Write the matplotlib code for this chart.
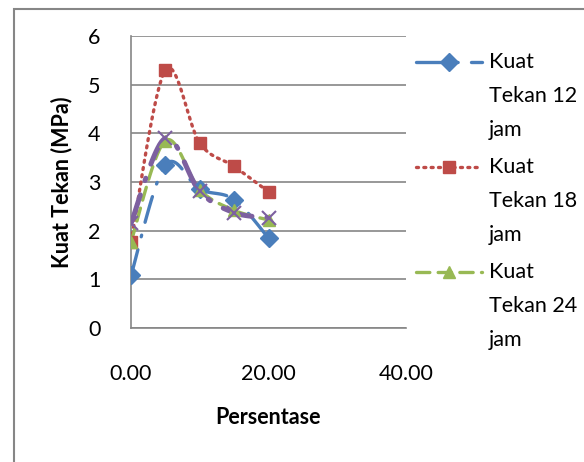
import numpy as np
import matplotlib
matplotlib.use("Agg")
import matplotlib.pyplot as plt
from matplotlib.lines import Line2D
from matplotlib.patches import Rectangle

plt.rcParams['font.family'] = ['Lato', 'DejaVu Sans']

persentase = [0, 5, 10, 15, 20]
kt12 = [1.08, 3.35, 2.85, 2.64, 1.85]
kt18 = [1.77, 5.30, 3.80, 3.32, 2.80]
kt24 = [1.77, 3.85, 2.84, 2.42, 2.22]
kt_extra = [2.15, 3.90, 2.81, 2.37, 2.27]
labels = ["Kuat\nTekan 12\njam", "Kuat\nTekan 18\njam", "Kuat\nTekan 24\njam"]
yticks = [0, 1, 2, 3, 4, 5, 6]
xticks = [0, 20, 40]

W, H = 584, 462
FS = 15.5
fig = plt.figure(figsize=(W / 100, H / 100), dpi=100)

def fx(px):
    return px / W

def fy(py):
    return 1 - py / H

AX_L, AX_R, AX_T, AX_B = 131, 406, 36, 328
ax = fig.add_axes([fx(AX_L), fy(AX_B), fx(AX_R) - fx(AX_L), fy(AX_T) - fy(AX_B)])

def smooth(x, y, n=30):
    x = np.asarray(x, float); y = np.asarray(y, float)
    P = np.column_stack([x, y])
    out = []
    for i in range(len(P) - 1):
        p0 = P[i - 1] if i > 0 else P[i]
        p1 = P[i]; p2 = P[i + 1]
        p3 = P[i + 2] if i + 2 < len(P) else P[i + 1]
        c1 = p1 + (p2 - p0) / 6
        c2 = p2 - (p3 - p1) / 6
        t = np.linspace(0, 1, n)[:, None]
        seg = (1 - t) ** 3 * p1 + 3 * (1 - t) ** 2 * t * c1 + 3 * (1 - t) * t ** 2 * c2 + t ** 3 * p2
        out.append(seg if i == 0 else seg[1:])
    s = np.vstack(out)
    return s[:, 0], s[:, 1]

blue = '#4a7ebb'
red = '#be4b48'
green = '#98b954'
purple = '#7d60a0'

series = [
    (kt12, blue, (0, (8, 4, 0.5, 4)), 'D', 9, 2.4),
    (kt18, red, (0, (0.6, 1.6)), 's', 9, 2.4),
    (kt24, green, (0, (4, 2.5)), '^', 9, 2.4),
    (kt_extra, purple, (0, (6, 3, 0.5, 3)), 'x', 10, 3.6),
]
for ys, c, ls, m, ms, lw in series:
    sx, sy = smooth(persentase, ys)
    ax.plot(sx, sy, color=c, lw=lw, ls=ls, dash_capstyle='round', zorder=3)
    if m == 'x':
        ax.plot(persentase, ys, ls='none', marker=m, ms=ms, mew=1.5, color=c, zorder=4)
    else:
        ax.plot(persentase, ys, ls='none', marker=m, ms=ms, color=c, mec=c, zorder=4)

ax.set_xlim(0, 40)
ax.set_ylim(0, 6)
ax.set_yticks(yticks)
ax.set_xticks(xticks)
ax.set_xticklabels([f"{v:.2f}" for v in xticks])
ax.yaxis.grid(True, color='#868686', lw=1.2)
ax.set_axisbelow(True)
for s in ['top', 'right']:
    ax.spines[s].set_visible(False)
for s in ['left', 'bottom']:
    ax.spines[s].set_color('#868686')
    ax.spines[s].set_linewidth(1.2)
ax.tick_params(length=0, labelsize=FS)
ax.tick_params(axis='y', pad=22)
ax.tick_params(axis='x', pad=26)
ax.set_ylabel("Kuat Tekan (MPa)", fontsize=FS, fontweight='bold', va='center')
ax.set_xlabel("Persentase", fontsize=FS, fontweight='bold', va='center')
ax.yaxis.set_label_coords((62 - AX_L) / (AX_R - AX_L), (AX_B - 182) / (AX_B - AX_T))
ax.xaxis.set_label_coords((268 - AX_L) / (AX_R - AX_L), (AX_B - 418) / (AX_B - AX_T))

# legend (manual)
leg = [(blue, (0, (8, 4, 0.5, 4)), 'D'), (red, (0, (0.6, 1.6)), 's'), (green, (0, (4, 2.5)), '^')]
for i, (c, ls, m) in enumerate(leg):
    yl = 62 + i * 105
    fig.add_artist(Line2D([fx(416), fx(482)], [fy(yl), fy(yl)], color=c, lw=2.4, ls=ls,
                          dash_capstyle='round', transform=fig.transFigure))
    fig.add_artist(Line2D([fx(449)], [fy(yl)], marker=m, ms=9, color=c, mec=c,
                          transform=fig.transFigure))
    for j, t in enumerate(labels[i].split("\n")):
        fig.text(fx(489), fy(yl + j * 34), t, fontsize=FS, va='center', ha='left')

# chart area border
fig.add_artist(Rectangle((fx(14), fy(470)), fx(600), fy(9) - fy(470), fill=False,
                         ec='#868686', lw=1.5, transform=fig.transFigure))

fig.savefig("out.png", dpi=100)
